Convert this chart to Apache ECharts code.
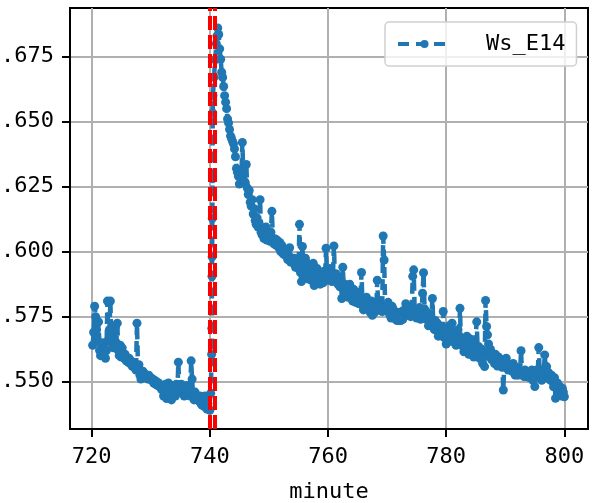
<!DOCTYPE html>
<html>
<head>
<meta charset="utf-8">
<script src="https://cdn.jsdelivr.net/npm/echarts@6/dist/echarts.min.js"></script>
<style>html,body{margin:0;padding:0;background:#fff}#c{width:597px;height:503px}</style>
</head>
<body>
<div id="c"></div>
<script>
// ---- data ----
const seriesName = 'Ws_E14';
const xTicks = [720, 740, 760, 780, 800];
const yTicks = [0.550, 0.575, 0.600, 0.625, 0.650, 0.675];
const markMinutes = [740.05, 740.9];
const sampleStep = 1 / 6; // 10-second samples

// 720 + 1/6 min ... 740.0
const preStart = 720 + 1 / 6;
const preValues = [
  0.564, 0.569, 0.579, 0.575, 0.570,
  0.566, 0.573, 0.562, 0.560, 0.564, 0.561,
  0.565, 0.563, 0.559, 0.562, 0.581, 0.566,
  0.570, 0.581, 0.565, 0.568, 0.563, 0.566,
  0.571, 0.565, 0.5725, 0.562, 0.560, 0.564,
  0.5595, 0.563, 0.561, 0.559, 0.5605, 0.558,
  0.559, 0.5575, 0.559, 0.557, 0.558, 0.556,
  0.557, 0.5555, 0.556, 0.5545, 0.5725, 0.556,
  0.5565, 0.5525, 0.551, 0.5535, 0.554, 0.5525,
  0.553, 0.5515, 0.5525, 0.551, 0.5525, 0.551,
  0.5515, 0.5505, 0.551, 0.5495, 0.5505, 0.549,
  0.550, 0.5485, 0.5495, 0.548, 0.5485, 0.547,
  0.5475, 0.5445, 0.546, 0.549, 0.5435, 0.5465,
  0.5495, 0.545, 0.5475, 0.543, 0.5485, 0.5455,
  0.547, 0.5445, 0.549, 0.546, 0.5575, 0.548,
  0.5465, 0.549, 0.5455, 0.5475, 0.5445, 0.547,
  0.545, 0.5485, 0.546, 0.5475, 0.5445, 0.558,
  0.551, 0.5445, 0.543, 0.546, 0.5435, 0.5445,
  0.543, 0.5425, 0.5445, 0.5415, 0.541, 0.5425,
  0.5405, 0.5445, 0.541, 0.5395, 0.5415, 0.5395,
  0.539
];

// the fast rise right after minute 740
const jumpMinutes = [740.15, 740.3, 740.33, 740.36, 740.39, 740.42, 740.45, 740.48, 740.52, 740.7, 740.9, 741.1, 741.2];
const jumpValues  = [0.5455, 0.5605, 0.5705, 0.5905, 0.598, 0.6128, 0.628, 0.6533, 0.660, 0.667, 0.6738, 0.680, 0.683];

// 741 + 2/6 min ... 800.0
const postStart = 741 + 2 / 6;
const postValues = [
  0.686, 0.6835, 0.678, 0.674,
  0.669, 0.667, 0.6635, 0.660, 0.6575, 0.655,
  0.651, 0.6495, 0.647, 0.6445, 0.6435, 0.6425,
  0.6415, 0.6395, 0.6365, 0.632, 0.6305, 0.629,
  0.626, 0.631, 0.628, 0.642, 0.6295, 0.627,
  0.6265, 0.6335, 0.6245, 0.622, 0.6235, 0.619,
  0.6175, 0.620, 0.6145, 0.6165, 0.612, 0.6105,
  0.613, 0.6095, 0.611, 0.620, 0.6075, 0.6065,
  0.6085, 0.605, 0.607, 0.6095, 0.6045, 0.6065,
  0.607, 0.604, 0.6075, 0.6155, 0.6045, 0.603,
  0.605, 0.6025, 0.6045, 0.604, 0.6015, 0.6035,
  0.600, 0.6025, 0.5995, 0.599, 0.6005, 0.5985,
  0.5995, 0.597, 0.5985, 0.6015, 0.596, 0.5975,
  0.5975, 0.5955, 0.5975, 0.594, 0.5965, 0.5945,
  0.5935, 0.6105, 0.592, 0.5885, 0.602, 0.5945,
  0.594, 0.5975, 0.5905, 0.5955, 0.5895, 0.5935,
  0.5935, 0.589, 0.5925, 0.5955, 0.587, 0.5925,
  0.5915, 0.5935, 0.5885, 0.592, 0.5875, 0.5905,
  0.5905, 0.588, 0.5925, 0.5905, 0.6013, 0.5895,
  0.5915, 0.589, 0.5935, 0.5925, 0.5885, 0.591,
  0.6022, 0.5895, 0.5915, 0.591, 0.5875, 0.5895,
  0.5865, 0.5895, 0.582, 0.594, 0.586, 0.5875,
  0.5845, 0.587, 0.5825, 0.583, 0.5875, 0.5835,
  0.5835, 0.581, 0.5855, 0.5815, 0.5805, 0.5845,
  0.5815, 0.580, 0.5835, 0.5825, 0.592, 0.5795,
  0.5776, 0.5815, 0.580, 0.5825, 0.5795, 0.5805,
  0.579, 0.5765, 0.581, 0.5755, 0.5795, 0.5765,
  0.5805, 0.578, 0.589, 0.578, 0.5775, 0.5795,
  0.579, 0.577, 0.606, 0.5968, 0.5788, 0.578,
  0.5775, 0.5805, 0.5765, 0.5755, 0.5745, 0.579,
  0.578, 0.5745, 0.577, 0.574, 0.5735, 0.5765,
  0.5735, 0.5765, 0.5735, 0.577, 0.574, 0.5775,
  0.5775, 0.580, 0.5765, 0.5785, 0.5755, 0.577,
  0.575, 0.5775, 0.5905, 0.593, 0.577, 0.5755,
  0.5745, 0.5775, 0.576, 0.5785, 0.574, 0.5765,
  0.584, 0.5919, 0.578, 0.5755, 0.574, 0.5765,
  0.5715, 0.5735, 0.5725, 0.5745, 0.582, 0.5715,
  0.570, 0.5735, 0.5705, 0.5725, 0.5675, 0.5705,
  0.5695, 0.5705, 0.5675, 0.577, 0.567, 0.5685,
  0.5645, 0.5705, 0.567, 0.5715, 0.5655, 0.5695,
  0.5725, 0.5655, 0.567, 0.5685, 0.564, 0.5665,
  0.570, 0.5655, 0.5782, 0.5645, 0.5665, 0.5635,
  0.5615, 0.566, 0.5625, 0.5675, 0.563, 0.5605,
  0.5665, 0.5605, 0.5625, 0.5655, 0.5595, 0.5635,
  0.564, 0.573, 0.5615, 0.5635, 0.559, 0.5615,
  0.5625, 0.557, 0.5595, 0.5558, 0.5812, 0.5712,
  0.568, 0.5645, 0.561, 0.5625, 0.5585, 0.5605,
  0.559, 0.557, 0.5605, 0.5575, 0.556, 0.5595,
  0.5575, 0.556, 0.5585, 0.5555, 0.5468, 0.5565,
  0.5575, 0.559, 0.5565, 0.5545, 0.555, 0.5565,
  0.5565, 0.554, 0.557, 0.555, 0.5525, 0.5555,
  0.554, 0.5525, 0.5545, 0.5535, 0.5619, 0.5535,
  0.5535, 0.552, 0.5545, 0.553, 0.5519, 0.5535,
  0.5535, 0.5515, 0.5525, 0.5545, 0.5505, 0.552,
  0.5481, 0.552, 0.5545, 0.5535, 0.5631, 0.5525,
  0.5535, 0.5505, 0.554, 0.5515, 0.5603, 0.5558,
  0.5558, 0.552, 0.5535, 0.551, 0.5505, 0.5525,
  0.550, 0.548, 0.5515, 0.5436, 0.5475, 0.5495,
  0.5465, 0.5455, 0.548, 0.5445, 0.5474, 0.546,
  0.5442
];

// ---- build ----
const points = [];
preValues.forEach((v, i) => points.push([+(preStart + i * sampleStep).toFixed(4), v]));
jumpValues.forEach((v, i) => points.push([jumpMinutes[i], v]));
postValues.forEach((v, i) => points.push([+(postStart + i * sampleStep).toFixed(4), v]));

const FONT = '"DejaVu Sans Mono", monospace';
const chart = echarts.init(document.getElementById('c'), null, {renderer: 'canvas'});
chart.setOption({
  animation: false,
  backgroundColor: '#fff',
  grid: {left: 70, top: 8, right: 9, bottom: 74, outerBoundsMode: 'none', containLabel: false,
         show: true, borderColor: '#000', borderWidth: 2, backgroundColor: 'transparent'},
  legend: {
    data: [seriesName],
    left: 385, top: 22,
    padding: [11, 11, 11, 11],
    itemWidth: 53, itemHeight: 10,
    borderColor: '#d0d0d0', borderWidth: 1.5, borderRadius: 4,
    backgroundColor: 'rgba(255,255,255,0.8)',
    lineStyle: {width: 4, type: [11, 7], color: '#1f77b4'},
    textStyle: {fontFamily: FONT, fontSize: 22, color: '#000', padding: [0, 0, 0, 30], lineHeight: 22}
  },
  xAxis: {
    type: 'value', min: 716.33, max: 804.0,
    name: 'minute', nameLocation: 'middle', nameGap: 52,
    nameTextStyle: {fontFamily: FONT, fontSize: 22, color: '#000'},
    axisLine: {show: true, onZero: false, lineStyle: {color: '#000', width: 2}},
    axisTick: {show: true, length: 8, lineStyle: {color: '#000', width: 2}, customValues: xTicks},
    axisLabel: {fontFamily: FONT, fontSize: 22, color: '#000', margin: 17, customValues: xTicks, formatter: v => String(v)},
    splitLine: {show: true, lineStyle: {color: '#b0b0b0', width: 2}}
  },
  yAxis: {
    type: 'value', min: 0.5318, max: 0.6937,
    axisLine: {show: true, onZero: false, lineStyle: {color: '#000', width: 2}},
    axisTick: {show: true, length: 8, lineStyle: {color: '#000', width: 2}, customValues: yTicks},
    axisLabel: {fontFamily: FONT, fontSize: 22, color: '#000', margin: 16, customValues: yTicks, formatter: v => v.toFixed(3)},
    splitLine: {show: true, lineStyle: {color: '#b0b0b0', width: 2}}
  },
  series: [
    {
      name: seriesName, type: 'line', data: points,
      color: '#1f77b4',
      symbol: 'circle', symbolSize: 9, showAllSymbol: true,
      lineStyle: {color: '#1f77b4', width: 4.5, type: [11, 6]},
      itemStyle: {color: '#1f77b4'},
      z: 2
    },
    {
      name: 'marks', type: 'line', data: [],
      markLine: {
        silent: true, symbol: 'none', animation: false,
        label: {show: false},
        lineStyle: {color: '#ff0000', width: 4, type: [14, 5]},
        data: markMinutes.map(m => ({xAxis: m}))
      },
      z: 5
    }
  ]
});
</script>
</body>
</html>
